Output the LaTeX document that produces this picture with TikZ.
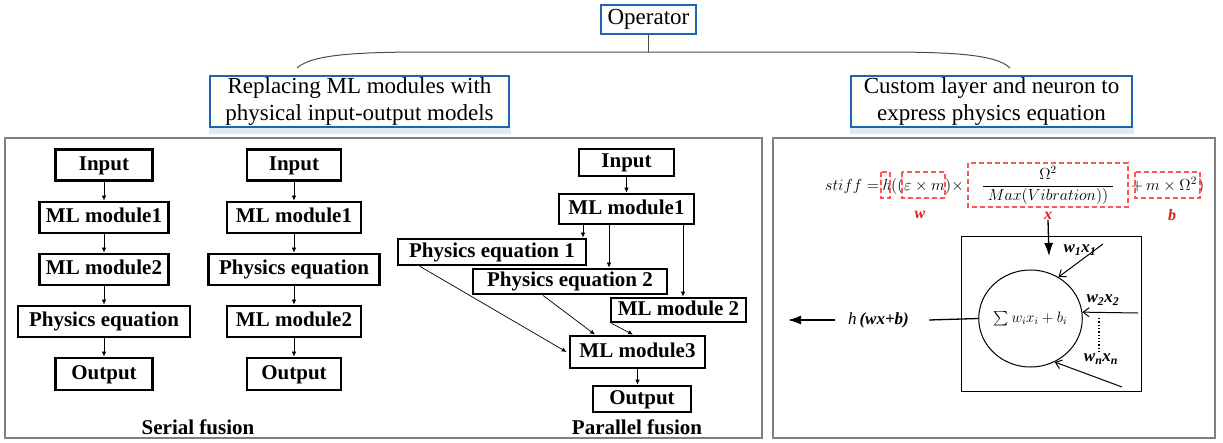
\RequirePackage{fix-cm}
\documentclass[tikz,border=0pt]{standalone}
\usepackage{amsmath}
\usepackage[no-math]{fontspec}
\setmainfont{Liberation Serif}
\usetikzlibrary{arrows.meta,shapes.geometric}
\definecolor{hdrblue}{RGB}{30,100,180}
\definecolor{dashred}{RGB}{255,85,85}
\definecolor{lblred}{RGB}{225,25,25}
\definecolor{shadowblue}{RGB}{222,234,246}
\begin{document}
\begin{tikzpicture}[x=1pt,y=-1pt,
  hdr/.style={draw=hdrblue, line width=2.5pt, fill=white, inner sep=0pt, align=center, font=\fontsize{23}{27}\selectfont},
  panel/.style={draw=black!50, line width=1.3pt},
  bx/.style={draw, line width=2.8pt, inner sep=0pt, text height=14pt, text depth=4pt, font=\fontsize{21}{24}\selectfont\bfseries},
  arr/.style={-{Latex[length=5pt,width=4.5pt]}, line width=0.7pt},
  capt/.style={inner sep=0pt, font=\fontsize{21}{24}\selectfont\bfseries},
  eq/.style={inner sep=0pt, font=\fontsize{16}{19}\selectfont},
  rbox/.style={draw=dashred, line width=1.4pt, dash pattern=on 5pt off 3pt},
  rlbl/.style={inner sep=0pt, text=lblred, font=\fontsize{16}{18}\selectfont\bfseries\itshape},
  wlbl/.style={inner sep=0pt, font=\fontsize{17}{19}\selectfont\bfseries\itshape},
  inarr/.style={-{Straight Barb[length=6pt,width=9pt]}, line width=1pt},
  bigarr/.style={-{Latex[length=13pt,width=9pt]}, line width=1.3pt}
]
\useasboundingbox (0,0) rectangle (1223,442);

% ---------- top ----------
\node[hdr, minimum width=95, minimum height=29] (op) at (648.5,19.5) {Operator};
\coordinate (bm) at (648.5,52);
\coordinate (bl) at (297,68);
\coordinate (br) at (1010,68);
\draw[black!70, line width=1pt] (op.south) -- (bm);
\draw[black!70, line width=1pt] (bl) .. controls (312,54) and (360,52) .. (430,52) -- (880,52) .. controls (950,52) and (996,54) .. (br);

\fill[shadowblue] (209,127) rectangle (511,134);
\fill[shadowblue] (850,127) rectangle (1134,134);
\node[hdr, minimum width=299, minimum height=51] (h1) at (359.5,101.5) {Replacing ML modules with\\physical input-output models};
\node[hdr, minimum width=281, minimum height=51] (h2) at (991.5,101.5) {Custom layer and neuron to\\express physics equation};

% ---------- panels ----------
\draw[panel] (5,138) rectangle (762,438);
\draw[panel] (773,138) rectangle (1215,438);

% ---------- serial fusion, column 1 ----------
\node[bx, minimum width=97,  minimum height=31] (a1) at (104,165) {Input};
\node[bx, minimum width=129, minimum height=31] (a2) at (104,217.5) {ML module1};
\node[bx, minimum width=129, minimum height=31] (a3) at (104,269.5) {ML module2};
\node[bx, minimum width=172, minimum height=31] (a4) at (104,321.5) {Physics equation};
\node[bx, minimum width=97,  minimum height=32] (a5) at (104,374) {Output};
\draw[arr] (a1.south) -- (a2.north);
\draw[arr] (a2.south) -- (a3.north);
\draw[arr] (a3.south) -- (a4.north);
\draw[arr] (a4.south) -- (a5.north);

% ---------- serial fusion, column 2 ----------
\node[bx, minimum width=94,  minimum height=31] (b1) at (294,165) {Input};
\node[bx, minimum width=134, minimum height=31] (b2) at (294,217.5) {ML module1};
\node[bx, minimum width=171, minimum height=31] (b3) at (294,269.5) {Physics equation};
\node[bx, minimum width=134, minimum height=31] (b4) at (294,321.5) {ML module2};
\node[bx, minimum width=94,  minimum height=32] (b5) at (294,374) {Output};
\draw[arr] (b1.south) -- (b2.north);
\draw[arr] (b2.south) -- (b3.north);
\draw[arr] (b3.south) -- (b4.north);
\draw[arr] (b4.south) -- (b5.north);

\node[capt] (serial) at (198,427) {Serial fusion};

% ---------- parallel fusion ----------
\node[bx, minimum width=95,  minimum height=27] (pin) at (626.5,162.5) {Input};
\node[bx, minimum width=135, minimum height=30] (pm1) at (626.5,209) {ML module1};
\node[bx, minimum width=188, minimum height=26] (pe1) at (492,252) {Physics equation 1};
\node[bx, minimum width=194, minimum height=25] (pe2) at (570,281.5) {Physics equation 2};
\node[bx, minimum width=135, minimum height=24] (pm2) at (678.5,310) {ML module 2};
\node[bx, minimum width=135, minimum height=32] (pm3) at (637.5,352) {ML module3};
\node[bx, minimum width=98,  minimum height=26] (pout) at (642,399) {Output};

\coordinate (t1) at ([xshift=-43.5]pm1.south);
\coordinate (t2) at ([xshift=-17.5]pm1.south);
\coordinate (t3) at ([xshift=56.5]pm1.south);
\draw[arr] (pin.south) -- (pm1.north);
\draw[arr] (t1) -- (t1 |- pe1.north);
\draw[arr] (t2) -- (t2 |- pe2.north);
\draw[arr] (t3) -- (t3 |- pm2.north);
\draw[arr] ([xshift=-72]pe1.south) -- ([xshift=-2]pm3.west);
\draw[arr] ([xshift=-27]pe2.south) -- ([xshift=-42.5]pm3.north);
\draw[arr] ([xshift=2]pm2.south west) -- ([xshift=-4.5]pm3.north);
\draw[arr] (pm3.south) -- (pm3.south |- pout.north);

\node[capt] (parallel) at (637,427) {Parallel fusion};

% ---------- equation ----------
\node[eq, anchor=base west] (s1) at (825,190) {$stiff=$};
\node[eq, anchor=base west] (eh) at (882.5,190) {$h$};
\node[eq, anchor=base west] (pa) at (891,190) {$(($};
\node[eq, anchor=base west] (ew) at (904,190) {$\varepsilon\times m$};
\node[eq, anchor=base west] (pb) at (945,190) {$)\times$};
\node[eq, anchor=base] (ex) at (1048,190) {$\displaystyle\frac{\Omega^2}{\;Max(Vibration))\;}$};
\node[eq, anchor=base west] (pc) at (1131,190) {$+$};
\node[eq, anchor=base west] (eb) at (1146,190) {$m\times\Omega^2$};
\node[eq, anchor=base west] (pd) at (1198,190) {$)$};

\draw[rbox] (881,172) rectangle (890,198);
\draw[rbox] (902,172) rectangle (945,198);
\draw[rbox] (968,163) rectangle (1128,207);
\draw[rbox] (1135,172) rectangle (1200,198);

\node[rlbl] (wl) at (920,215) {w};
\node[rlbl] (xl) at (1048,216) {x};
\node[rlbl] (bl2) at (1172,215) {b};

% ---------- neuron ----------
\node[draw, line width=1.2pt, minimum width=180, minimum height=155] (nbox) at (1051.5,314) {};
\node[draw, ellipse, line width=1pt, minimum width=89, minimum height=97, inner sep=0pt,
      font=\fontsize{15}{17}\selectfont] (neu) at (1030.5,318.5) {$\sum w_ix_i+b_i$};
\coordinate (xa) at (1049,256);
\draw[bigarr] (xl.south) -- (xa);

\coordinate (i1) at (1103,244);
\coordinate (i2) at (1138,313);
\coordinate (i3) at (1122,387);
\draw[inarr] (i1) -- (neu.56);
\draw[inarr] (i2) -- (neu.7);
\draw[inarr] (i3) -- (neu.-61.5);
\draw[dotted, line width=1.3pt] (1099,318) -- (1099,352);

\node[wlbl] (l1) at (1080,250) {w\textsubscript{1}x\textsubscript{1}};
\node[wlbl] (l2) at (1103,300) {w\textsubscript{2}x\textsubscript{2}};
\node[wlbl] (l3) at (1101,359) {w\textsubscript{n}x\textsubscript{n}};

\node[inner sep=0pt, font=\fontsize{17}{19}\selectfont] (hlab) at (878.5,320) {\textit{h}\,\textbf{\textit{(wx+b)}}};
\coordinate (oend) at (788,320);
\draw[line width=1.3pt] (neu.west) -- ([xshift=20]hlab.east);
\draw[bigarr] ([xshift=-13]hlab.west) -- (oend);
\end{tikzpicture}
\end{document}
